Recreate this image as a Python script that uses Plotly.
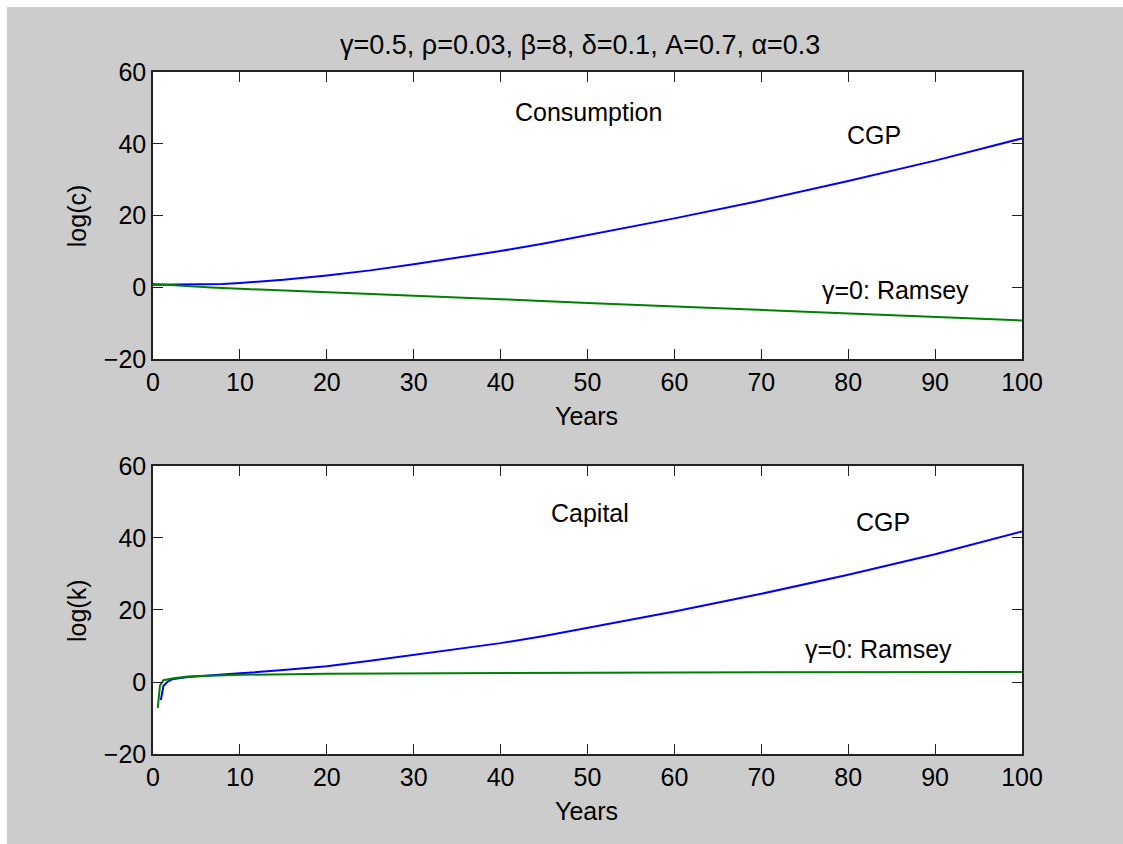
import plotly.graph_objects as go

# ---------------- data ----------------
years_c_cgp = [0, 5, 8, 10, 15, 20, 25, 30, 35, 40, 45, 50, 60, 70, 80, 90, 100]
logc_cgp = [0.7, 0.7, 0.9, 1.2, 2.1, 3.3, 4.7, 6.4, 8.2, 10.1, 12.2, 14.5, 19.2, 24.2, 29.6, 35.3, 41.5]

years_c_ramsey = [0, 2.5, 6.75, 10, 20, 30, 40, 50, 60, 70, 80, 90, 100]
logc_ramsey = [0.9, 0.5, -0.05, -0.43, -1.37, -2.38, -3.32, -4.4, -5.35, -6.3, -7.43, -8.38, -9.25]

years_k_cgp = [0.9, 1.2, 1.7, 2.2, 4, 7, 10, 15, 20, 25, 30, 35, 40, 45, 50, 60, 70, 80, 90, 100]
logk_cgp = [-5.0, -1.1, 0.1, 0.75, 1.4, 2.0, 2.4, 3.3, 4.4, 5.9, 7.5, 9.2, 10.8, 12.8, 15.0, 19.6, 24.5, 29.8, 35.5, 41.8]

years_k_ramsey = [0.55, 0.8, 1.2, 2.2, 4, 10, 20, 37, 60, 100]
logk_ramsey = [-7.2, -1.0, 0.5, 1.0, 1.55, 2.0, 2.3, 2.5, 2.65, 2.8]

x_ticks = [0, 10, 20, 30, 40, 50, 60, 70, 80, 90, 100]
y_ticks = [-20, 0, 20, 40, 60]

title_text = "γ=0.5, ρ=0.03, β=8, δ=0.1, A=0.7, α=0.3"

BLUE = "#0000FF"
GREEN = "#008000"
FONT = "Liberation Sans, Arial, sans-serif"
FS = 25

fig = go.Figure()
fig.add_trace(go.Scatter(x=years_c_cgp, y=logc_cgp, mode="lines",
                         line=dict(color=BLUE, width=2), xaxis="x", yaxis="y", showlegend=False))
fig.add_trace(go.Scatter(x=years_c_ramsey, y=logc_ramsey, mode="lines",
                         line=dict(color=GREEN, width=2), xaxis="x", yaxis="y", showlegend=False))
fig.add_trace(go.Scatter(x=years_k_cgp, y=logk_cgp, mode="lines",
                         line=dict(color=BLUE, width=2), xaxis="x2", yaxis="y2", showlegend=False))
fig.add_trace(go.Scatter(x=years_k_ramsey, y=logk_ramsey, mode="lines",
                         line=dict(color=GREEN, width=2), xaxis="x2", yaxis="y2", showlegend=False))

axis_common = dict(
    showgrid=False, zeroline=False, showline=True, mirror="ticks",
    linecolor="#222222", linewidth=1.5,
    ticks="inside", ticklen=10, tickwidth=1, tickcolor="#222222",
    tickfont=dict(family=FONT, size=FS, color="black"),
)

fig.update_layout(
    width=1123, height=844,
    margin=dict(l=153, r=101, t=72, b=90),
    paper_bgcolor="#CCCCCC", plot_bgcolor="white",
    xaxis=dict(domain=[0, 1], range=[0, 100], tickvals=x_ticks, anchor="y", **axis_common),
    yaxis=dict(domain=[0.5792, 1.0], range=[-20, 60], tickvals=y_ticks, anchor="x", **axis_common),
    xaxis2=dict(domain=[0, 1], range=[0, 100], tickvals=x_ticks, anchor="y2", **axis_common),
    yaxis2=dict(domain=[0.0, 0.4223], range=[-20, 60], tickvals=y_ticks, anchor="x2", **axis_common),
    showlegend=False,
)

txt = dict(family=FONT, size=FS, color="black")
C = dict(showarrow=False, xanchor="center", yanchor="middle")
ann = []
# in-plot labels
ann.append(dict(x=50.06, y=48.8, xref="x", yref="y", text="Consumption", font=txt, **C))
ann.append(dict(x=83.0, y=42.4, xref="x", yref="y", text="CGP", font=txt, **C))
ann.append(dict(x=85.4, y=-0.8, xref="x", yref="y", text="γ=0: Ramsey", font=txt, **C))
ann.append(dict(x=50.3, y=47.0, xref="x2", yref="y2", text="Capital", font=txt, **C))
ann.append(dict(x=84.0, y=44.5, xref="x2", yref="y2", text="CGP", font=txt, **C))
ann.append(dict(x=83.5, y=9.25, xref="x2", yref="y2", text="γ=0: Ramsey", font=txt, **C))
# title and axis titles
ann.append(dict(x=0.4914, y=1.0396, xref="paper", yref="paper", text=title_text,
                font=dict(family=FONT, size=27, color="black"), **C))
ann.append(dict(x=-0.0875, y=0.790, xref="paper", yref="paper", text="log(c)",
                font=txt, textangle=-90, **C))
ann.append(dict(x=0.4994, y=0.4956, xref="paper", yref="paper", text="Years", font=txt, **C))
ann.append(dict(x=-0.0875, y=0.2111, xref="paper", yref="paper", text="log(k)",
                font=txt, textangle=-90, **C))
ann.append(dict(x=0.4994, y=-0.0836, xref="paper", yref="paper", text="Years", font=txt, **C))
fig.update_layout(annotations=ann)

# white strips at top and left edges of the image
fig.update_layout(shapes=[
    dict(type="rect", xref="paper", yref="paper", x0=-0.2, x1=1.2,
         y0=(754 - 7) / 682, y1=1.2, fillcolor="white", line=dict(width=0), layer="above"),
    dict(type="rect", xref="paper", yref="paper", x0=-0.2, x1=(7 - 153) / 869,
         y0=-0.2, y1=1.2, fillcolor="white", line=dict(width=0), layer="above"),
])

fig.write_html(
    "out.html",
    post_script="document.body.style.margin='0';document.body.style.background='#CCCCCC';"
                "document.documentElement.style.background='#CCCCCC';",
)
